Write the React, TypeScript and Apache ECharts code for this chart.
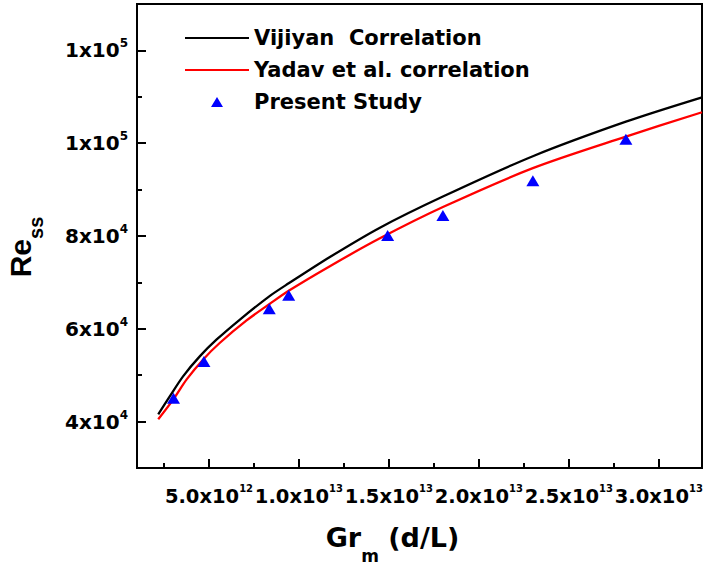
import React, { useEffect, useRef } from "react";
import * as echarts from "echarts";

// Vijiyan correlation (black line)
const vijiyanGr = [2.18e12, 2.83e12, 3.57e12, 4.5e12, 5.43e12, 6.72e12, 8.35e12, 9.43e12, 11.72e12, 14.5e12, 18.0e12, 23.0e12, 28.17e12, 32.4e12];
const vijiyanRe = [41570, 45500, 49810, 54110, 57700, 62000, 67000, 69800, 75480, 81800, 88510, 97200, 104640, 109890];

// Yadav et al. correlation (red line)
const yadavGr = [2.18e12, 3.02e12, 3.76e12, 4.68e12, 5.61e12, 7.09e12, 8.35e12, 9.43e12, 11.72e12, 14.5e12, 18.0e12, 23.0e12, 28.17e12, 32.4e12];
const yadavRe = [40500, 44800, 49100, 53400, 56990, 61800, 65300, 68200, 73500, 79500, 86240, 94620, 101420, 106670];

// Present study (blue triangles)
const studyGr = [3.03e12, 4.72e12, 8.35e12, 9.43e12, 14.93e12, 18.0e12, 23.0e12, 28.17e12];
const studyRe = [45010, 52970, 64300, 67225, 80130, 84430, 91890, 100860];

// Axis ticks
const xMajorTicks = [5e12, 1e13, 1.5e13, 2e13, 2.5e13, 3e13];
const xMinorTicks = [2.5e12, 7.5e12, 1.25e13, 1.75e13, 2.25e13, 2.75e13];
const yMajorTicks = [4e4, 6e4, 8e4, 1e5, 1.2e5];
const yMinorTicks = [3e4, 5e4, 7e4, 9e4, 1.1e5];

const NUM_FONT = "DejaVu Sans";
const LINE_ICON = "path://M0,0H64V2H0Z";
const TRI_ICON = "path://M6,0L12,10L0,10Z";

function sci(v: number, digits: number) {
  const exp = Math.floor(Math.log10(v) + 1e-9);
  const m = v / Math.pow(10, exp);
  const ms = digits > 0 ? m.toFixed(digits) : String(Math.round(m));
  return `{b|${ms}x10}{s|${exp}}`;
}

export default function App() {
  const ref = useRef<HTMLDivElement>(null);
  useEffect(() => {
    if (!ref.current) return;
    const chart = echarts.init(ref.current, undefined, { renderer: "svg" });
    const zip = (xs: number[], ys: number[]) => xs.map((x, i) => [x, ys[i]]);
    chart.setOption({
      animation: false,
      backgroundColor: "#fff",
      grid: {
        left: 137,
        right: 2,
        top: 4,
        bottom: 98,
        containLabel: false,
        outerBoundsMode: "none",
        show: true,
        borderColor: "#000",
        borderWidth: 2,
        backgroundColor: "transparent",
      },
      legend: {
        orient: "vertical",
        left: 185,
        top: 27,
        padding: 0,
        itemWidth: 64,
        itemHeight: 10,
        itemGap: 10,
        symbolKeepAspect: true,
        textStyle: {
          fontFamily: NUM_FONT,
          fontWeight: "bold",
          fontSize: 21,
          lineHeight: 22,
          color: "#000",
        },
        data: [
          { name: "Vijiyan  Correlation", icon: LINE_ICON, symbolKeepAspect: true },
          { name: "Yadav et al. correlation", icon: LINE_ICON, symbolKeepAspect: true },
          { name: "Present Study", icon: TRI_ICON, symbolKeepAspect: true },
        ],
      },
      xAxis: [
        {
          type: "value",
          min: 1e12,
          max: 3.24e13,
          position: "bottom",
          splitLine: { show: false },
          axisLine: { lineStyle: { color: "#000", width: 2 } },
          axisTick: {
            inside: true,
            length: 9,
            lineStyle: { color: "#000", width: 2 },
            customValues: xMajorTicks,
          },
          axisLabel: {
            customValues: xMajorTicks,
            margin: 15,
            showMinLabel: true,
            showMaxLabel: true,
            hideOverlap: false,
            formatter: (v: number) => sci(v, 1),
            rich: {
              b: { fontFamily: NUM_FONT, fontWeight: "bold", fontSize: 19.5, lineHeight: 26, color: "#000" },
              s: { fontFamily: NUM_FONT, fontWeight: "bold", fontSize: 10, lineHeight: 12, color: "#000", verticalAlign: "top" },
            },
          },
          name: "{a|Gr}{c|m}{a| (d/L)}",
          nameLocation: "middle",
          nameGap: 56,
          nameTextStyle: {
            padding: [0, 54, 0, 0],
            rich: {
              a: { fontFamily: NUM_FONT, fontWeight: "bold", fontSize: 27, lineHeight: 32, color: "#000", verticalAlign: "top" },
              c: { fontFamily: NUM_FONT, fontWeight: "bold", fontSize: 17, lineHeight: 17, color: "#000", verticalAlign: "top", padding: [23, 0, 0, 0] },
            },
          },
        },
        {
          type: "value",
          min: 1e12,
          max: 3.24e13,
          position: "bottom",
          splitLine: { show: false },
          axisLine: { show: false },
          axisLabel: { show: false },
          axisTick: {
            inside: true,
            length: 5,
            lineStyle: { color: "#000", width: 2 },
            customValues: xMinorTicks,
          },
        },
      ],
      yAxis: [
        {
          type: "value",
          min: 3e4,
          max: 1.3e5,
          position: "left",
          splitLine: { show: false },
          axisLine: { lineStyle: { color: "#000", width: 2 } },
          axisTick: {
            inside: true,
            length: 9,
            lineStyle: { color: "#000", width: 2 },
            customValues: yMajorTicks,
          },
          axisLabel: {
            customValues: yMajorTicks,
            margin: 9,
            showMinLabel: true,
            showMaxLabel: true,
            formatter: (v: number) => sci(v, 0),
            rich: {
              b: { fontFamily: NUM_FONT, fontWeight: "bold", fontSize: 20, lineHeight: 26, color: "#000" },
              s: { fontFamily: NUM_FONT, fontWeight: "bold", fontSize: 12, lineHeight: 12, color: "#000", verticalAlign: "top" },
            },
          },
          name: "{a|Re}{c|ss}",
          nameLocation: "middle",
          nameRotate: 90,
          nameGap: 98,
          nameTextStyle: {
            padding: [0, 22, 0, 0],
            rich: {
              a: { fontFamily: "Liberation Sans", fontWeight: "bold", fontSize: 30, lineHeight: 34, color: "#000", verticalAlign: "top" },
              c: { fontFamily: "Liberation Sans", fontWeight: "bold", fontSize: 20, lineHeight: 20, color: "#000", verticalAlign: "top", padding: [21, 0, 0, 0] },
            },
          },
        },
        {
          type: "value",
          min: 3e4,
          max: 1.3e5,
          position: "left",
          splitLine: { show: false },
          axisLine: { show: false },
          axisLabel: { show: false },
          axisTick: {
            inside: true,
            length: 5,
            lineStyle: { color: "#000", width: 2 },
            customValues: yMinorTicks,
          },
        },
      ],
      series: [
        {
          name: "Vijiyan  Correlation",
          type: "line",
          data: zip(vijiyanGr, vijiyanRe),
          smooth: 0.3,
          symbol: "none",
          symbolKeepAspect: true,
          lineStyle: { color: "#000", width: 2.3 },
          itemStyle: { color: "#000" },
          z: 2,
        },
        {
          name: "Yadav et al. correlation",
          type: "line",
          data: zip(yadavGr, yadavRe),
          smooth: 0.3,
          symbol: "none",
          symbolKeepAspect: true,
          lineStyle: { color: "#ff0000", width: 2.3 },
          itemStyle: { color: "#ff0000" },
          z: 3,
        },
        {
          name: "Present Study",
          type: "scatter",
          data: zip(studyGr, studyRe),
          symbol: "triangle",
          symbolSize: [13, 11],
          symbolKeepAspect: true,
          itemStyle: { color: "#0000ff", opacity: 1 },
          z: 4,
        },
      ],
    });
    return () => chart.dispose();
  }, []);
  return (
    <div
      ref={ref}
      style={{ position: "fixed", left: 0, top: 0, width: 704, height: 566, background: "#fff" }}
    />
  );
}
